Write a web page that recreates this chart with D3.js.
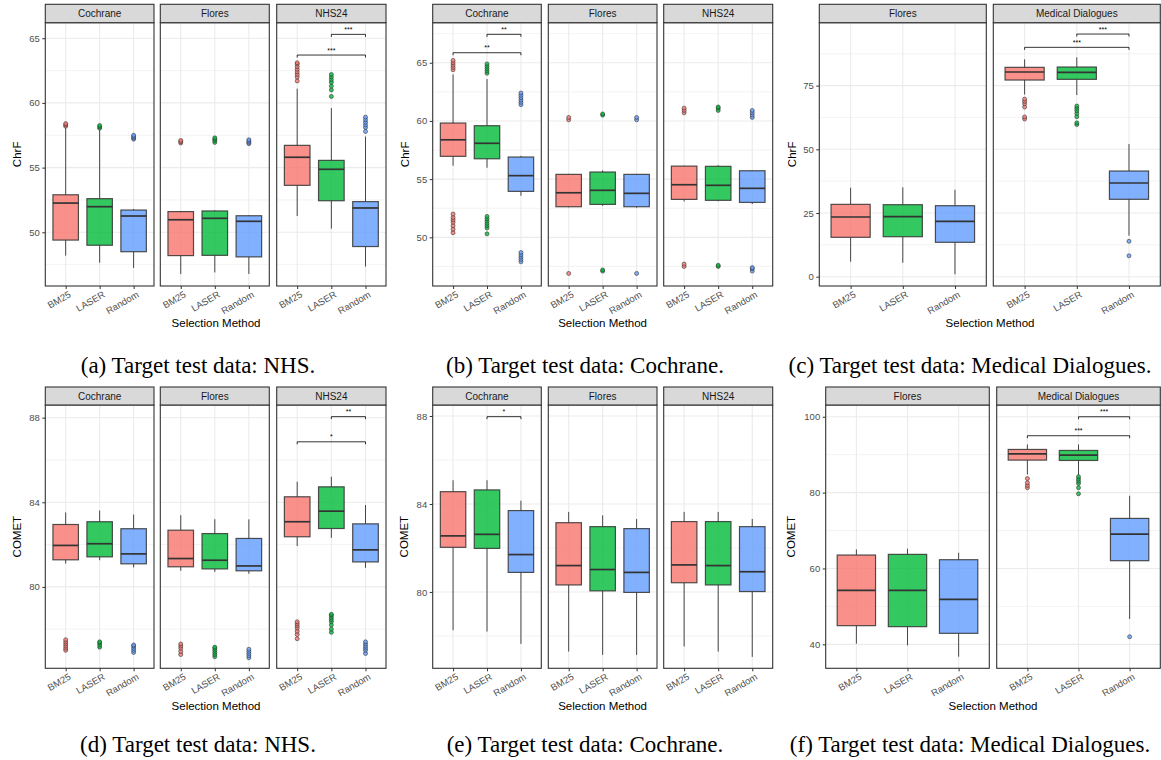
<!DOCTYPE html>
<html>
<head>
<meta charset="utf-8">
<script src="https://cdn.jsdelivr.net/npm/d3@7"></script>
<style>
  body { margin: 0; background: #fff; }
  text { font-family: "Liberation Sans", Arial, Helvetica, sans-serif; }
  .cap { font-family: "Liberation Serif", "Times New Roman", serif; }
</style>
</head>
<body>
<svg id="fig" width="1161" height="760"></svg>
<script>
const methods = ["BM25", "LASER", "Random"];
const fills = ["#F8766D", "#00BA38", "#619CFF"];

// box stats per facet, per method: [whisker low, q1, median, q3, whisker high]

// (a) ChrF, target NHS
const facetsA = ["Cochrane", "Flores", "NHS24"];
const boxesA = [
  [[48.2, 49.4, 52.26, 52.9, 58.05], [47.65, 49.0, 51.98, 52.6, 57.9], [47.24, 48.5, 51.26, 51.72, 51.8]],
  [[46.78, 48.2, 50.97, 51.6, 51.65], [46.9, 48.22, 51.08, 51.65, 51.7], [46.78, 48.1, 50.85, 51.28, 51.32]],
  [[51.26, 53.63, 55.8, 56.72, 61.1], [50.28, 52.44, 54.87, 55.56, 59.6], [47.35, 48.9, 51.88, 52.37, 57.4]]
];
const outliersA = [
  [[58.2, 58.3, 58.4], [58.05, 58.15, 58.25], [57.2, 57.3, 57.4, 57.5]],
  [[56.9, 57.0, 57.1], [56.95, 57.1, 57.2, 57.3], [56.85, 56.95, 57.05, 57.15]],
  [[61.7, 62.0, 62.2, 62.4, 62.6, 62.8, 63.0, 63.1], [60.5, 61.0, 61.3, 61.6, 61.8, 62.0, 62.2], [57.8, 58.1, 58.3, 58.5, 58.7, 58.9]]
];
const sigA = [["NHS24", "LASER", "Random", 65.3, "***"], ["NHS24", "BM25", "Random", 63.7, "***"]];

// (b) ChrF, target Cochrane
const facetsB = ["Cochrane", "Flores", "NHS24"];
const boxesB = [
  [[56.15, 56.96, 58.38, 59.82, 64.0], [55.98, 56.75, 58.08, 59.59, 63.6], [53.57, 53.95, 55.3, 56.9, 57.0]],
  [[52.58, 52.63, 53.83, 55.41, 55.45], [52.7, 52.83, 54.04, 55.61, 55.76], [52.55, 52.63, 53.78, 55.41, 55.45]],
  [[53.09, 53.26, 54.52, 56.12, 56.15], [53.1, 53.18, 54.47, 56.1, 56.2], [52.86, 53.0, 54.21, 55.72, 55.75]]
];
const outliersB = [
  [[50.4, 50.7, 51.0, 51.3, 51.5, 51.7, 52.0, 64.4, 64.6, 64.8, 65.0, 65.2],
   [50.3, 50.8, 51.0, 51.2, 51.4, 51.6, 51.8, 64.1, 64.3, 64.5, 64.7, 64.9],
   [47.9, 48.1, 48.3, 48.5, 48.7, 61.4, 61.6, 61.8, 62.0, 62.2, 62.4]],
  [[46.9, 60.1, 60.3], [47.1, 47.2, 60.5, 60.6], [46.9, 60.1, 60.3]],
  [[47.5, 47.7, 60.7, 60.9, 61.1], [47.5, 47.6, 60.9, 61.1, 61.2], [47.1, 47.3, 47.4, 60.3, 60.5, 60.7, 60.9]]
];
const sigB = [["Cochrane", "LASER", "Random", 67.44, "**"], ["Cochrane", "BM25", "Random", 65.86, "**"]];

// (c) ChrF, target Medical Dialogues
const facetsC = ["Flores", "Medical Dialogues"];
const boxesC = [
  [[5.89, 15.46, 23.43, 28.4, 34.93], [5.49, 15.7, 23.55, 28.26, 35.09], [0.94, 13.5, 21.74, 27.87, 34.14]],
  [[71.5, 77.2, 80.34, 82.18, 85.32], [71.3, 77.47, 80.2, 82.3, 86.1], [16.09, 30.38, 36.77, 41.48, 52.08]]
];
const outliersC = [
  [[], [], []],
  [[61.9, 62.7, 66.6, 67.9, 68.8, 69.7], [59.7, 60.4, 62.8, 64.1, 65.2, 66.1, 67.0], [8.2, 13.9]]
];
const sigC = [["Medical Dialogues", "LASER", "Random", 95.25, "***"], ["Medical Dialogues", "BM25", "Random", 90.03, "***"]];

// (d) COMET, target NHS
const facetsD = ["Cochrane", "Flores", "NHS24"];
const boxesD = [
  [[81.1, 81.28, 81.96, 82.95, 83.52], [81.26, 81.42, 82.04, 83.08, 83.61], [80.92, 81.09, 81.56, 82.75, 83.42]],
  [[80.76, 80.95, 81.34, 82.68, 83.39], [80.71, 80.85, 81.26, 82.52, 83.2], [80.62, 80.76, 80.99, 82.29, 83.19]],
  [[81.93, 82.37, 83.08, 84.26, 84.97], [82.32, 82.76, 83.58, 84.73, 85.21], [80.9, 81.18, 81.75, 82.98, 83.87]]
];
const outliersD = [
  [[77.0, 77.1, 77.2, 77.3, 77.4, 77.5], [77.15, 77.25, 77.35, 77.4], [76.9, 77.0, 77.1, 77.2, 77.25]],
  [[76.8, 76.95, 77.1, 77.2, 77.3], [76.7, 76.8, 76.9, 77.0, 77.1, 77.15], [76.65, 76.75, 76.85, 76.95, 77.05]],
  [[77.55, 77.75, 77.9, 78.05, 78.15, 78.25, 78.35], [77.85, 78.0, 78.2, 78.35, 78.45, 78.55, 78.65, 78.7], [76.85, 77.0, 77.1, 77.2, 77.3, 77.4]]
];
const sigD = [["NHS24", "LASER", "Random", 88.05, "**"], ["NHS24", "BM25", "Random", 86.86, "*"]];

// (e) COMET, target Cochrane
const facetsE = ["Cochrane", "Flores", "NHS24"];
const boxesE = [
  [[78.26, 82.03, 82.55, 84.56, 85.08], [78.2, 81.98, 82.62, 84.64, 85.08], [77.64, 80.89, 81.7, 83.7, 84.15]],
  [[77.29, 80.32, 81.2, 83.15, 83.64], [77.14, 80.05, 81.02, 82.97, 83.48], [77.14, 79.98, 80.89, 82.88, 83.32]],
  [[77.52, 80.42, 81.23, 83.2, 83.64], [77.29, 80.32, 81.2, 83.2, 83.64], [77.05, 80.02, 80.92, 82.97, 83.32]]
];
const outliersE = [[[], [], []], [[], [], []], [[], [], []]];
const sigE = [["Cochrane", "LASER", "Random", 87.97, "*"]];

// (f) COMET, target Medical Dialogues
const facetsF = ["Flores", "Medical Dialogues"];
const boxesF = [
  [[40.18, 44.92, 54.23, 63.54, 65.03], [39.74, 44.66, 54.23, 63.72, 65.21], [36.75, 42.9, 51.86, 62.31, 64.15]],
  [[84.8, 88.57, 90.24, 91.38, 92.7], [84.7, 88.48, 89.89, 91.12, 92.7], [46.68, 62.05, 69.07, 73.2, 79.17]]
];
const outliersF = [
  [[], [], []],
  [[81.3, 81.9, 82.6, 83.7], [79.7, 81.3, 82.4, 83.0, 83.6, 84.2], [42.0]]
];
const sigF = [["Medical Dialogues", "LASER", "Random", 100, "***"], ["Medical Dialogues", "BM25", "Random", 95.0, "***"]];

const ticksChrF = [50, 55, 60, 65];
const ticksChrFMD = [0, 25, 50, 75];
const ticksComet = [80, 84, 88];
const ticksCometMD = [40, 60, 80, 100];

const row1 = { stripTop: 4.3, top: 22.7, bottom: 286, titleY: 327, capY: 373 };
const row2 = { stripTop: 387, top: 405, bottom: 668.3, titleY: 710, capY: 752 };
const colA = [[45.3, 154], [160.3, 269.3], [276.7, 386]];
const colB = [[432.7, 541.3], [548.3, 657], [663.7, 772.7]];

const panels = [
  { row: row1, fx: colA, facets: facetsA, boxes: boxesA, out: outliersA, sig: sigA, ticks: ticksChrF, dom: [45.85, 66.2],
    ylab: "ChrF", ylabX: 16.7, titleX: 216, capX: 198, cap: "(a) Target test data: NHS." },
  { row: row1, fx: colB, facets: facetsB, boxes: boxesB, out: outliersB, sig: sigB, ticks: ticksChrF, dom: [45.82, 68.44],
    ylab: "ChrF", ylabX: 405, titleX: 602.6, capX: 585, cap: "(b) Target test data: Cochrane." },
  { row: row1, fx: [[819.3, 986.3], [993.3, 1160.3]], facets: facetsC, boxes: boxesC, out: outliersC, sig: sigC, ticks: ticksChrFMD, dom: [-3.65, 99.7],
    ylab: "ChrF", ylabX: 791.7, titleX: 990, capX: 970, cap: "(c) Target test data: Medical Dialogues." },
  { row: row2, fx: colA, facets: facetsD, boxes: boxesD, out: outliersD, sig: sigD, ticks: ticksComet, dom: [76.15, 88.6],
    ylab: "COMET", ylabX: 16.7, titleX: 216, capX: 198, cap: "(d) Target test data: NHS." },
  { row: row2, fx: colB, facets: facetsE, boxes: boxesE, out: outliersE, sig: sigE, ticks: ticksComet, dom: [76.53, 88.5],
    ylab: "COMET", ylabX: 404, titleX: 602.6, capX: 585, cap: "(e) Target test data: Cochrane." },
  { row: row2, fx: [[825.7, 989.3], [996.7, 1160.3]], facets: facetsF, boxes: boxesF, out: outliersF, sig: sigF, ticks: ticksCometMD, dom: [33.68, 103.1],
    ylab: "COMET", ylabX: 791, titleX: 993, capX: 970, cap: "(f) Target test data: Medical Dialogues." }
];

const svg = d3.select("#fig");
svg.append("rect").attr("width", 1161).attr("height", 760).attr("fill", "#fff");

// minor breaks: midpoints between majors, plus one step beyond each end if inside the limits
function minorBreaks(ticks, dom) {
  const step = ticks[1] - ticks[0];
  const all = [ticks[0] - step].concat(ticks, [ticks[ticks.length - 1] + step]);
  const res = [];
  for (let i = 0; i < all.length - 1; i++) {
    const m = (all[i] + all[i + 1]) / 2;
    if (m > dom[0] && m < dom[1]) res.push(m);
  }
  return res;
}

panels.forEach(p => {
  const r = p.row;
  const y = d3.scaleLinear().domain(p.dom).range([r.bottom, r.top]);
  const minor = minorBreaks(p.ticks, p.dom);
  const g = svg.append("g");

  p.facets.forEach((name, fi) => {
    const [x0, x1] = p.fx[fi];
    const x = d3.scalePoint().domain(methods).range([x0, x1]).padding(0.6);
    const bw = x.step() * 0.75;
    const fg = g.append("g");

    // grid
    fg.selectAll(".mn").data(minor).join("line")
      .attr("x1", x0).attr("x2", x1).attr("y1", d => y(d)).attr("y2", d => y(d))
      .attr("stroke", "#EBEBEB").attr("stroke-width", 0.6);
    fg.selectAll(".mj").data(p.ticks).join("line")
      .attr("x1", x0).attr("x2", x1).attr("y1", d => y(d)).attr("y2", d => y(d))
      .attr("stroke", "#EBEBEB").attr("stroke-width", 1.1);
    fg.selectAll(".vg").data(methods).join("line")
      .attr("x1", d => x(d)).attr("x2", d => x(d)).attr("y1", r.top).attr("y2", r.bottom)
      .attr("stroke", "#EBEBEB").attr("stroke-width", 1.1);

    // boxes
    methods.forEach((m, mi) => {
      const [lo, q1, med, q3, hi] = p.boxes[fi][mi];
      const cx = x(m);
      fg.append("line").attr("x1", cx).attr("x2", cx).attr("y1", y(q3)).attr("y2", y(hi))
        .attr("stroke", "#333").attr("stroke-width", 0.9);
      fg.append("line").attr("x1", cx).attr("x2", cx).attr("y1", y(q1)).attr("y2", y(lo))
        .attr("stroke", "#333").attr("stroke-width", 0.9);
      fg.append("rect").attr("x", cx - bw / 2).attr("width", bw)
        .attr("y", y(q3)).attr("height", y(q1) - y(q3))
        .attr("fill", fills[mi]).attr("fill-opacity", 0.8)
        .attr("stroke", "#333").attr("stroke-opacity", 0.85).attr("stroke-width", 1.2);
      fg.append("line").attr("x1", cx - bw / 2).attr("x2", cx + bw / 2).attr("y1", y(med)).attr("y2", y(med))
        .attr("stroke", "#333").attr("stroke-width", 1.7);
      fg.selectAll(null).data(p.out[fi][mi]).join("circle")
        .attr("cx", cx).attr("cy", d => y(d)).attr("r", 2)
        .attr("fill", fills[mi]).attr("fill-opacity", 0.8)
        .attr("stroke", "#333").attr("stroke-width", 0.6);
    });

    // significance brackets
    p.sig.filter(s => s[0] === name).forEach(s => {
      const xa = x(s[1]), xb = x(s[2]), yy = y(s[3]);
      fg.append("path").attr("d", `M${xa},${yy + 2.5}V${yy}H${xb}V${yy + 2.5}`)
        .attr("fill", "none").attr("stroke", "#000").attr("stroke-width", 0.8);
      fg.append("text").attr("x", (xa + xb) / 2).attr("y", yy - 2.5)
        .attr("text-anchor", "middle").attr("font-size", 7).attr("fill", "#000").text(s[4]);
    });

    // panel border and strip
    fg.append("rect").attr("x", x0).attr("y", r.top).attr("width", x1 - x0).attr("height", r.bottom - r.top)
      .attr("fill", "none").attr("stroke", "#333").attr("stroke-width", 1.1);
    fg.append("rect").attr("x", x0).attr("y", r.stripTop).attr("width", x1 - x0).attr("height", r.top - r.stripTop)
      .attr("fill", "#D9D9D9").attr("stroke", "#333").attr("stroke-width", 1.1);
    fg.append("text").attr("x", (x0 + x1) / 2).attr("y", (r.stripTop + r.top) / 2 + 3.6)
      .attr("text-anchor", "middle").attr("font-size", 10).attr("fill", "#1A1A1A").text(name);

    // x axis
    const xax = fg.append("g").attr("transform", `translate(0,${r.bottom})`)
      .call(d3.axisBottom(x).tickSize(3).tickSizeOuter(0));
    xax.attr("font-family", null).attr("font-size", 9.5);
    xax.select(".domain").remove();
    xax.selectAll("line").attr("stroke", "#333");
    xax.selectAll("text").attr("y", 0).attr("dy", "0.72em").attr("text-anchor", "end")
      .attr("transform", "translate(2,4.5) rotate(-30)").attr("fill", "#4D4D4D");

    // y axis on first facet
    if (fi === 0) {
      const yax = fg.append("g").attr("transform", `translate(${x0},0)`)
        .call(d3.axisLeft(y).tickValues(p.ticks).tickSize(3).tickPadding(2.5).tickSizeOuter(0));
      yax.attr("font-family", null).attr("font-size", 9.5);
      yax.select(".domain").remove();
      yax.selectAll("line").attr("stroke", "#333");
      yax.selectAll("text").attr("fill", "#4D4D4D");
    }
  });

  // axis titles and caption
  g.append("text").attr("transform", `translate(${p.ylabX + 4},${(r.top + r.bottom) / 2}) rotate(-90)`)
    .attr("text-anchor", "middle").attr("font-size", 11.5).attr("fill", "#000").text(p.ylab);
  g.append("text").attr("x", p.titleX).attr("y", r.titleY)
    .attr("text-anchor", "middle").attr("font-size", 11.5).attr("fill", "#000").text("Selection Method");
  g.append("text").attr("class", "cap").attr("x", p.capX).attr("y", r.capY)
    .attr("text-anchor", "middle").attr("font-size", 23).attr("fill", "#000").text(p.cap);
});
</script>
</body>
</html>
